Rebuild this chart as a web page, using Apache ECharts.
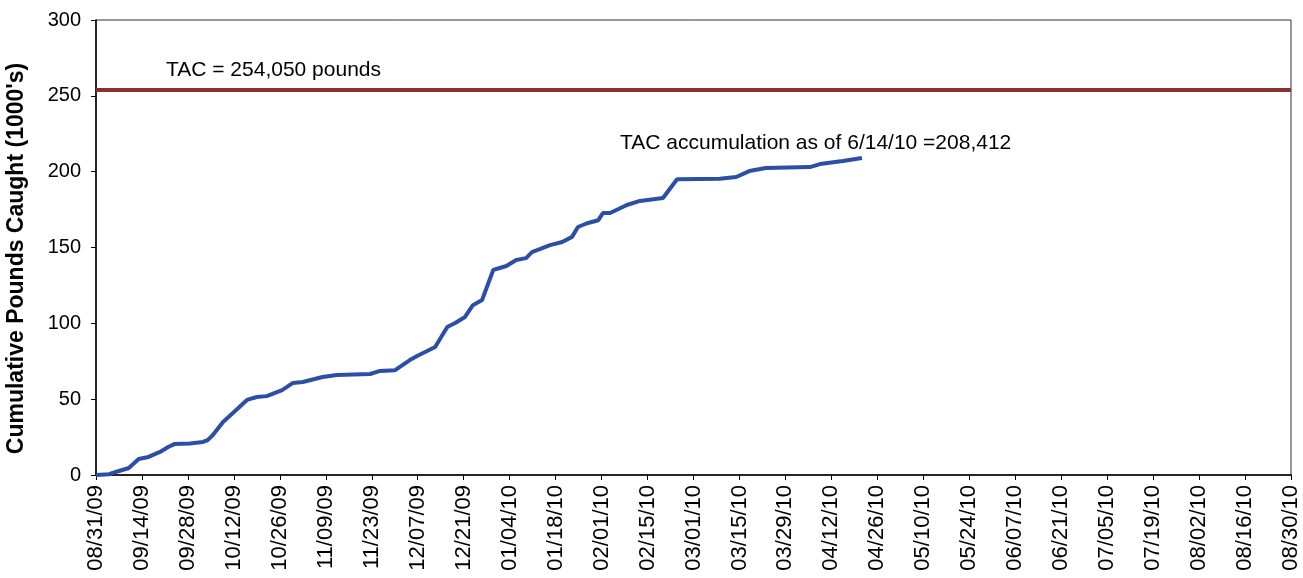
<!DOCTYPE html>
<html>
<head>
<meta charset="utf-8">
<script src="https://cdn.jsdelivr.net/npm/echarts@6/dist/echarts.min.js"></script>
<style>
  html, body { margin: 0; padding: 0; background: #fff; }
  #chart { width: 1303px; height: 578px; }
</style>
</head>
<body>
<div id="chart"></div>
<script>
// days since 08/31/09 and cumulative pounds caught (1000's)
var days = [0, 4, 6, 10, 13, 16, 19.5, 22, 24, 28.6, 32.6, 34, 35.6, 38.7, 41.7, 46, 49, 52, 56.7, 60, 63, 69, 73.4,
  83.5, 86.5, 91, 95.6, 97.8, 103.3, 107, 109.4, 112.4, 114.8, 117.6, 121, 123, 125, 128, 131, 132.8, 138.3, 142,
  145, 146.8, 149.6, 153, 154.4, 156.6, 161.7, 165.7, 172.7, 177, 190, 195, 199, 204, 217.5, 220.5, 227.5, 233.3];
var caught = [0, 0.5, 2, 4.6, 10.5, 11.9, 15.2, 18.5, 20.5, 20.8, 21.8, 23, 26.4, 35, 40.9, 49.5, 51.4, 52, 56, 60.7, 61.3, 64.6, 66,
  66.6, 68.6, 69, 75.8, 78.5, 84.4, 97.6, 100.2, 104.2, 112, 115.4, 135.2, 136.5, 137.8, 141.8, 143, 147, 151.6, 153.6,
  157, 163.5, 166, 168, 172.7, 172.7, 178, 180.7, 182.6, 195, 195.3, 196.5, 200.4, 202.4, 203, 205, 207, 209];
var tac = 254.05;
var xTickLabels = ['08/31/09', '09/14/09', '09/28/09', '10/12/09', '10/26/09', '11/09/09', '11/23/09', '12/07/09',
  '12/21/09', '01/04/10', '01/18/10', '02/01/10', '02/15/10', '03/01/10', '03/15/10', '03/29/10', '04/12/10',
  '04/26/10', '05/10/10', '05/24/10', '06/07/10', '06/21/10', '07/05/10', '07/19/10', '08/02/10', '08/16/10', '08/30/10'];

var chart = echarts.init(document.getElementById('chart'));
var font = 'Liberation Sans, Arial, sans-serif';

var option = {
  animation: false,
  grid: {
    left: 96, right: 12, top: 20, bottom: 103,
    outerBoundsMode: 'none',
    show: true,
    borderColor: '#333',
    borderWidth: 1
  },
  xAxis: {
    type: 'value',
    min: 0,
    max: 364,
    interval: 14,
    axisLine: { lineStyle: { color: '#000', width: 1.5 } },
    axisTick: { show: true, length: 5, lineStyle: { color: '#000' } },
    splitLine: { show: false },
    axisLabel: {
      rotate: 90,
      margin: 10,
      color: '#000',
      fontFamily: font,
      fontSize: 22,
      formatter: function (v) { return xTickLabels[Math.round(v / 14)]; }
    }
  },
  yAxis: {
    type: 'value',
    min: 0,
    max: 300,
    interval: 50,
    name: "Cumulative Pounds Caught (1000's)",
    nameLocation: 'middle',
    nameGap: 68,
    nameTextStyle: { color: '#000', fontFamily: font, fontSize: 23, fontWeight: 'bold', padding: [0, 22, 0, 0] },
    axisLine: { show: true, lineStyle: { color: '#000', width: 1.5 } },
    axisTick: { show: true, length: 5, lineStyle: { color: '#000' } },
    splitLine: { show: false },
    axisLabel: { color: '#000', fontFamily: font, fontSize: 20, margin: 15 }
  },
  series: [
    {
      type: 'line',
      data: days.map(function (d, i) { return [d, caught[i]]; }),
      showSymbol: false,
      lineStyle: { color: '#2b4ea6', width: 4 },
      markLine: {
        silent: true,
        symbol: 'none',
        label: { show: false },
        lineStyle: { color: '#8b2f2f', width: 4, type: 'solid' },
        data: [{ yAxis: tac }]
      }
    }
  ],
  graphic: [
    {
      type: 'text', left: 166, top: 60,
      style: { text: 'TAC = 254,050 pounds', fill: '#000', font: '21px ' + font }
    },
    {
      type: 'text', left: 620, top: 133,
      style: { text: 'TAC accumulation as of 6/14/10 =208,412', fill: '#000', font: '21px ' + font }
    }
  ]
};
chart.setOption(option);
</script>
</body>
</html>
